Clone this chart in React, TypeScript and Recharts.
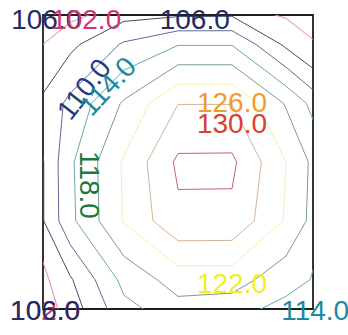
import { ComposedChart, Line, XAxis, YAxis, ReferenceArea, ReferenceDot } from 'recharts'

// contour levels, every 4 units
const levels = [102, 106, 110, 114, 118, 122, 126, 130]

// z on a 7x7 grid, rows top to bottom; node (i, j) sits at (i - 0.5, j - 0.5),
// so the outer ring lies half a cell outside the [0, 5] frame
const gridRows = [
  [94.9, 96.9, 99.0, 97.3, 97.5, 98.0, 94.0],
  [99.0, 105.0, 110.5, 113.8, 113.8, 105.2, 100.0],
  [103.0, 111.0, 118.5, 125.9, 125.9, 117.6, 108.0],
  [98.3, 113.3, 122.5, 130.7, 130.75, 122.0, 112.3],
  [98.6, 113.0, 122.3, 129.2, 129.1, 121.6, 112.0],
  [96.5, 105.5, 115.2, 119.8, 119.8, 115.6, 112.0],
  [96.0, 102.4, 110.7, 113.5, 112.0, 110.0, 106.0],
]

const lineColors = ['#de8aa3', '#474b63', '#5d6b94', '#6aa8b4', '#7b9c8a', '#f4f2ae', '#d2b498', '#c9606f']
const labelColors = ['#d6336f', '#262a64', '#1f3c80', '#1b8a9d', '#1a7a3e', '#f2ef1f', '#f29a2b', '#da4030']

// where each contour label sits (frame units) and how it is turned
const labelSpots = [
  { level: 106, x: 0.06, y: 0.07, angle: 0 },
  { level: 102, x: 0.8, y: 0.07, angle: 0 },
  { level: 106, x: 2.81, y: 0.07, angle: 0 },
  { level: 110, x: 0.76, y: 1.26, angle: -52 },
  { level: 114, x: 1.2, y: 1.21, angle: -47 },
  { level: 118, x: 0.87, y: 2.89, angle: 90 },
  { level: 126, x: 3.5, y: 1.48, angle: 0 },
  { level: 130, x: 3.5, y: 1.84, angle: 0 },
  { level: 122, x: 3.5, y: 4.56, angle: 0 },
  { level: 102, x: 0.04, y: 5.03, angle: 0 },
  { level: 106, x: 0.04, y: 5.03, angle: 0 },
  { level: 114, x: 5.04, y: 5.03, angle: 0 },
]

type Pt = { x: number; y: number }

// marching squares with linear interpolation along cell edges
function contourSegments(level: number): [Pt, Pt][] {
  const segs: [Pt, Pt][] = []
  const at = (i: number, j: number): Pt => ({ x: i - 0.5, y: j - 0.5 })
  const cross = (a: Pt, b: Pt, va: number, vb: number): Pt | null => {
    if (va >= level === vb >= level) return null
    const t = (level - va) / (vb - va)
    return { x: a.x + (b.x - a.x) * t, y: a.y + (b.y - a.y) * t }
  }
  for (let j = 0; j < gridRows.length - 1; j++) {
    for (let i = 0; i < gridRows[0].length - 1; i++) {
      const v0 = gridRows[j][i]
      const v1 = gridRows[j][i + 1]
      const v2 = gridRows[j + 1][i + 1]
      const v3 = gridRows[j + 1][i]
      const p0 = at(i, j)
      const p1 = at(i + 1, j)
      const p2 = at(i + 1, j + 1)
      const p3 = at(i, j + 1)
      const top = cross(p0, p1, v0, v1)
      const right = cross(p1, p2, v1, v2)
      const bottom = cross(p3, p2, v3, v2)
      const left = cross(p0, p3, v0, v3)
      const hits = [top, right, bottom, left].filter(Boolean) as Pt[]
      if (hits.length === 2) {
        segs.push([hits[0], hits[1]])
      } else if (hits.length === 4) {
        const centreHigh = (v0 + v1 + v2 + v3) / 4 >= level
        const cutsOnes = v0 >= level ? centreHigh : !centreHigh
        if (cutsOnes) {
          segs.push([top!, right!], [bottom!, left!])
        } else {
          segs.push([top!, left!], [right!, bottom!])
        }
      }
    }
  }
  return segs
}

function joinSegments(segs: [Pt, Pt][]): Pt[][] {
  const key = (p: Pt) => `${p.x.toFixed(6)},${p.y.toFixed(6)}`
  const rest = segs.slice()
  const out: Pt[][] = []
  while (rest.length) {
    const [a, b] = rest.pop()!
    const line = [a, b]
    let grown = true
    while (grown) {
      grown = false
      for (let k = 0; k < rest.length; k++) {
        const [c, d] = rest[k]
        const head = key(line[0])
        const tail = key(line[line.length - 1])
        if (key(c) === tail) line.push(d)
        else if (key(d) === tail) line.push(c)
        else if (key(d) === head) line.unshift(c)
        else if (key(c) === head) line.unshift(d)
        else continue
        rest.splice(k, 1)
        grown = true
        break
      }
    }
    out.push(line)
  }
  return out
}

// one series per level, separate pieces split by a null y
const contourSeries = levels.map((level) => {
  const data: { x: number; y: number | null }[] = []
  joinSegments(contourSegments(level)).forEach((line) => {
    line.forEach((p) => data.push({ x: p.x, y: p.y }))
    data.push({ x: line[line.length - 1].x, y: null })
  })
  return data
})

const FONT = '"Liberation Sans", Arial, sans-serif'

export default function App() {
  return (
    <div>
      <style>{'body{margin:0}'}</style>
      <ComposedChart width={348} height={335} margin={{ top: 15, right: 35, bottom: 26, left: 43 }}>
        <XAxis dataKey="x" type="number" domain={[0, 5]} allowDataOverflow hide />
        <YAxis type="number" domain={[0, 5]} reversed allowDataOverflow hide />
        {levels.map((level, i) => (
          <Line
            key={level}
            data={contourSeries[i]}
            dataKey="y"
            stroke={lineColors[i]}
            strokeWidth={1}
            dot={false}
            activeDot={false}
            isAnimationActive={false}
          />
        ))}
        <ReferenceArea x1={0} x2={5} y1={0} y2={5} fill="none" stroke="#1e1e1e" strokeWidth={1.8} ifOverflow="visible" />
        {labelSpots.map((s, i) => {
          const idx = levels.indexOf(s.level)
          return (
            <ReferenceDot
              key={i}
              x={s.x}
              y={s.y}
              r={0}
              ifOverflow="visible"
              shape={(p: { cx?: number; cy?: number }) => (
                <text
                  x={p.cx}
                  y={p.cy}
                  fill={labelColors[idx]}
                  fontSize={28}
                  fontFamily={FONT}
                  textAnchor="middle"
                  dominantBaseline="central"
                  transform={s.angle ? `rotate(${s.angle} ${p.cx} ${p.cy})` : undefined}
                >
                  {s.level.toFixed(1)}
                </text>
              )}
            />
          )
        })}
      </ComposedChart>
    </div>
  )
}
